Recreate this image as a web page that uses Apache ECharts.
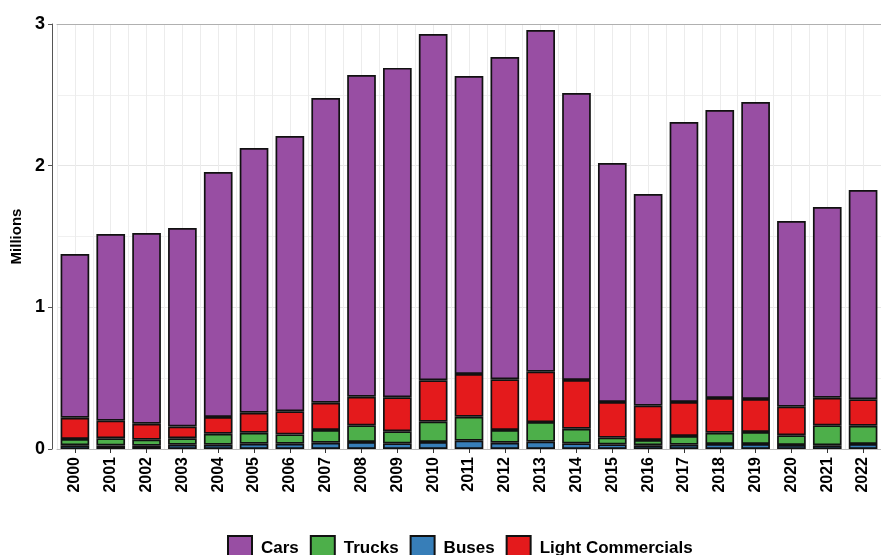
<!DOCTYPE html>
<html>
<head>
<meta charset="utf-8">
<script src="https://cdn.jsdelivr.net/npm/echarts@6/dist/echarts.min.js"></script>
<style>html,body{margin:0;padding:0;background:#fff}#c{width:881px;height:555px}</style>
</head>
<body>
<div id="c"></div>
<script>
const years = ['2000','2001','2002','2003','2004','2005','2006','2007','2008','2009','2010','2011','2012','2013','2014','2015','2016','2017','2018','2019','2020','2021','2022'];
const buses = [0.026,0.025,0.023,0.030,0.030,0.037,0.037,0.044,0.049,0.040,0.049,0.059,0.044,0.052,0.040,0.033,0.026,0.030,0.035,0.035,0.028,0.026,0.035];
const trucks = [0.045,0.051,0.043,0.046,0.078,0.078,0.066,0.090,0.118,0.085,0.144,0.169,0.090,0.138,0.103,0.047,0.038,0.062,0.080,0.085,0.069,0.141,0.129];
const lightCommercials = [0.150,0.124,0.112,0.083,0.118,0.141,0.164,0.193,0.202,0.240,0.292,0.301,0.358,0.356,0.344,0.252,0.242,0.240,0.245,0.233,0.202,0.195,0.187];
const cars = [1.155,1.318,1.347,1.401,1.729,1.869,1.942,2.151,2.271,2.325,2.444,2.104,2.275,2.412,2.026,1.687,1.494,1.976,2.033,2.096,1.310,1.346,1.477];
const yTicks = [0,1,2,3];

const FONT = '"Liberation Sans", Arial, sans-serif';
const colors = {Cars:'#984EA3', Trucks:'#4DAF4A', Buses:'#377EB8', 'Light Commercials':'#E41A1C'};
const border = {borderColor:'#111', borderWidth:1.7};

function bar(name, data){
  return {name, type:'bar', stack:'total', data, barCategoryGap:'20%',
    itemStyle:Object.assign({color:colors[name]}, border)};
}

const chart = echarts.init(document.getElementById('c'), null, {renderer:'canvas'});
chart.setOption({
  animation:false,
  textStyle:{fontFamily:FONT},
  grid:{left:57, right:-7, top:24, bottom:106, containLabel:false},
  xAxis:[{
    type:'category', data:years, position:'bottom',
    axisLine:{show:true, onZero:false, lineStyle:{color:'#bbb', width:1}},
    axisTick:{show:true, alignWithLabel:true, length:4, lineStyle:{color:'#333'}},
    axisLabel:{rotate:90, margin:8, color:'#000', fontWeight:'bold', fontSize:16, fontFamily:FONT},
    splitLine:{show:false}
  },{
    type:'value', min:-0.5, max:22.5, interval:0.5, position:'top',
    axisLine:{show:true, onZero:false, lineStyle:{color:'#b0b0b0', width:1}},
    axisTick:{show:false}, axisLabel:{show:false},
    splitLine:{show:true, lineStyle:{color:'#ececec', width:1}}
  }],
  yAxis:{
    type:'value', min:0, max:3, interval:1, offset:5,
    name:'Millions', nameLocation:'middle', nameGap:26,
    nameTextStyle:{color:'#000', fontWeight:'bold', fontSize:15, fontFamily:FONT},
    axisLine:{show:true, onZero:false, lineStyle:{color:'#555', width:1}},
    axisTick:{show:true, length:4, lineStyle:{color:'#555'}},
    axisLabel:{color:'#000', fontWeight:'bold', fontSize:18, margin:7, fontFamily:FONT,
      formatter:v => yTicks.includes(v) ? String(v) : ''},
    splitLine:{show:true, lineStyle:{color:'#e6e6e6', width:1}},
    minorTick:{show:false, splitNumber:2},
    minorSplitLine:{show:true, lineStyle:{color:'#f0f0f0', width:1}}
  },
  legend:{
    data:['Cars','Trucks','Buses','Light Commercials'],
    left:222, top:530, itemWidth:24, itemHeight:24, itemGap:11, icon:'rect',
    textStyle:{color:'#000', fontWeight:'bold', fontSize:17, fontFamily:FONT, padding:[0,0,0,4]}
  },
  series:[
    bar('Buses', buses),
    bar('Trucks', trucks),
    bar('Light Commercials', lightCommercials),
    bar('Cars', cars)
  ]
});
</script>
</body>
</html>
